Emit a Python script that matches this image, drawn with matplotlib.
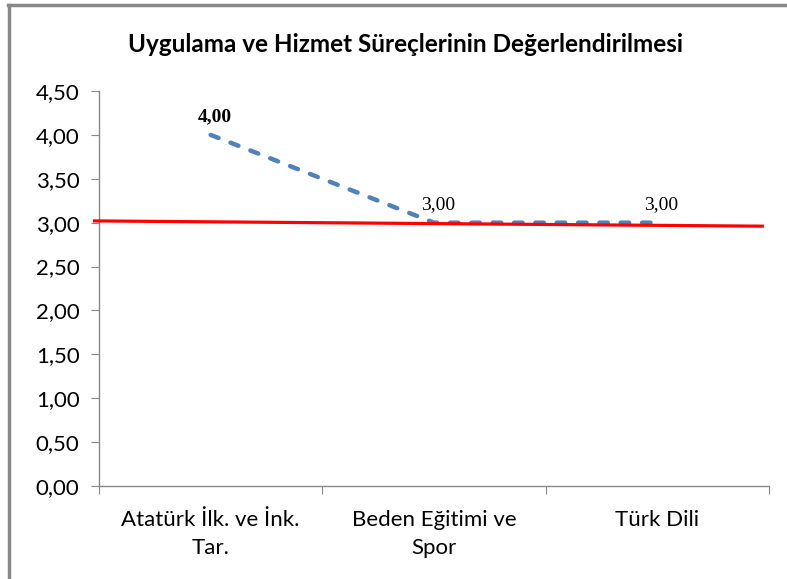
import matplotlib
matplotlib.use("Agg")
import matplotlib.pyplot as plt
from matplotlib.lines import Line2D

categories = ["Atatürk İlk. ve İnk.\nTar.", "Beden Eğitimi ve\nSpor", "Türk Dili"]
values = [4.00, 3.00, 3.00]
labels = ["4,00", "3,00", "3,00"]
ref_x = [-0.52, 2.47]
ref_y = [3.02, 2.96]
yticks = [0, 0.5, 1.0, 1.5, 2.0, 2.5, 3.0, 3.5, 4.0, 4.5]

plt.rcParams['font.family'] = ['Lato', 'DejaVu Sans']

fig = plt.figure(figsize=(7.87, 5.79), dpi=100)
W, H = 787, 579
ax = fig.add_axes([99 / W, 1 - 486 / H, (769 - 99) / W, (486 - 91) / H])

x = list(range(len(values)))
ax.plot(x, values, color="#4F81BD", linewidth=3.2, linestyle=(0, (1.9, 2.9)),
        dash_capstyle="round", zorder=3)
ax.plot(ref_x, ref_y, color="#FF0000", linewidth=2.3, clip_on=False, zorder=4)

for xi, v, lab in zip(x, values, labels):
    ax.annotate(lab, (xi, v), xytext=(3, 9.5), textcoords="offset points",
                ha="center", va="baseline", fontsize=14, family="Liberation Serif",
                fontweight="bold" if xi == 0 else "normal", color="black")

ax.set_xlim(-0.5, 2.5)
ax.set_ylim(0, 4.5)
ax.set_yticks(yticks)
ax.set_yticklabels([f"{t:.2f}".replace(".", ",") for t in yticks], fontsize=16)
ax.set_xticks([-0.5, 0.5, 1.5, 2.5])
ax.set_xticklabels([])
ax.set_xticks(x, minor=True)
ax.set_xticklabels(categories, minor=True, fontsize=16, linespacing=1.5)
ax.tick_params(axis="x", which="minor", length=0, pad=17)
ax.tick_params(axis="x", which="major", length=6, color="#888888", direction="out")
ax.tick_params(axis="y", length=6, color="#888888", direction="out", pad=8)

for s in ["top", "right"]:
    ax.spines[s].set_visible(False)
for s in ["left", "bottom"]:
    ax.spines[s].set_color("#888888")
    ax.spines[s].set_linewidth(1)

fig.text(405 / W, 1 - 45 / H, "Uygulama ve Hizmet Süreçlerinin Değerlendirilmesi",
         ha="center", va="center", fontsize=17.5, fontweight="bold")

# outer border (top and left visible)
fig.add_artist(Line2D([8 / W, 1.0], [1 - 5 / H, 1 - 5 / H], transform=fig.transFigure,
                      color="#888888", linewidth=2.5))
fig.add_artist(Line2D([9 / W, 9 / W], [0, 1 - 5 / H], transform=fig.transFigure,
                      color="#888888", linewidth=2.5))

fig.savefig("out.png", dpi=100)
